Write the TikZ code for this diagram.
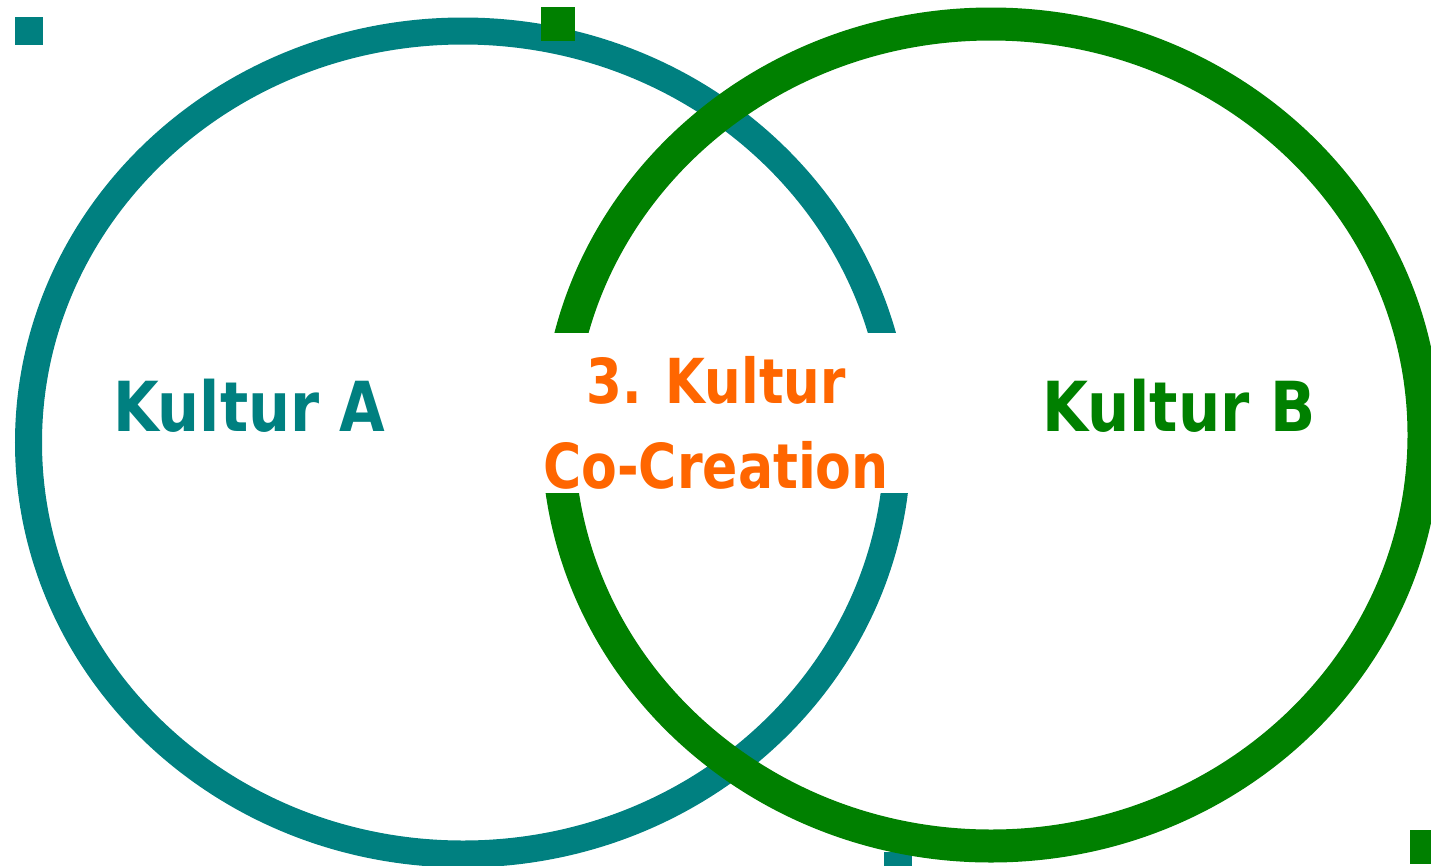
\documentclass[tikz,border=0pt]{standalone}
\usepackage{fontspec}
\setmainfont{DejaVu Sans}
\usepackage{graphicx}
\definecolor{kteal}{HTML}{008080}
\definecolor{kgreen}{HTML}{008000}
\definecolor{korange}{HTML}{FF6600}
\begin{document}
\begin{tikzpicture}[x=1pt,y=-1pt,
  sidelabel/.style={inner sep=0pt,font=\fontsize{69}{80}\selectfont\bfseries},
  midlabel/.style={inner sep=0pt,font=\fontsize{62}{72}\selectfont\bfseries,text=korange,anchor=base},
  handle/.style={fill=#1,draw=none}]
\useasboundingbox (0,0) rectangle (1431,865);
\clip (0,0) rectangle (1431,865);
% Kultur A ellipse
\draw[kteal,line width=27pt] (463,442.5) ellipse [x radius=434.5pt, y radius=411.5pt];
\fill[kteal] (15,17) rectangle (43,45);
\fill[kteal] (884,852) rectangle (912,880);
% Kultur B ellipse
\draw[kgreen,line width=33pt] (991,435) ellipse [x radius=433pt, y radius=411pt];
\fill[kgreen] (541,7) rectangle (575,41);
\fill[kgreen] (1410,830) rectangle (1444,864);
% white background of the middle text
\fill[white] (530,333) rectangle (920,493);
% labels
\node[sidelabel,text=kteal,anchor=base west] (ka) at (113,431) {\scalebox{0.855}[1]{Kultur A}};
\node[sidelabel,text=kgreen,anchor=base west] (kb) at (1042,431) {\scalebox{0.86}[1]{Kultur B}};
\node[midlabel] (k3) at (716,403) {\scalebox{0.83}[1]{3. Kultur}};
\node[midlabel] (cc) at (716,488) {\scalebox{0.84}[1]{Co-Creation}};
\end{tikzpicture}
\end{document}
